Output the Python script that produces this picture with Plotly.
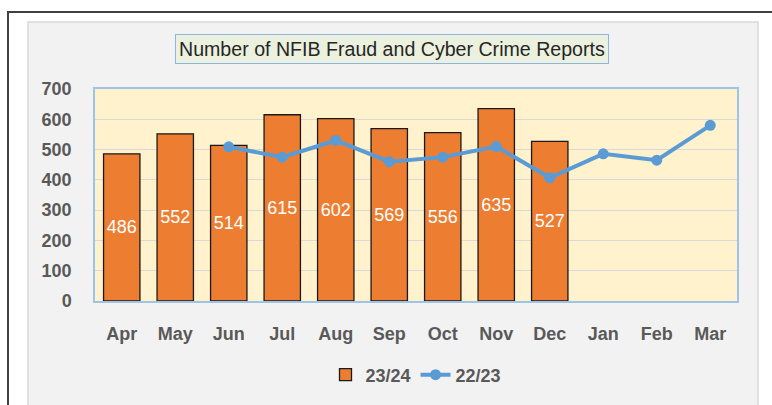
import plotly.graph_objects as go

months = ["Apr", "May", "Jun", "Jul", "Aug", "Sep", "Oct", "Nov", "Dec", "Jan", "Feb", "Mar"]
reports_2324 = [486, 552, 514, 615, 602, 569, 556, 635, 527, None, None, None]
reports_2223 = [None, None, 509, 475, 530, 460, 475, 510, 407, 486, 465, 580]
y_ticks = [0, 100, 200, 300, 400, 500, 600, 700]

L, R, T, B = 95, 35, 89, 101
W, H = 772, 405
pw, ph = W - L - R, H - T - B

def px(x):
    return (x - L) / pw

def py(y):
    return (H - B - y) / ph

fig = go.Figure()
fig.add_trace(go.Bar(
    x=months, y=reports_2324, name="23/24",
    marker=dict(color="#ED7D31", line=dict(color="#1a1a1a", width=1.3)),
    width=0.68,
    text=[str(v) if v is not None else "" for v in reports_2324],
    textposition="inside", insidetextanchor="middle",
    textfont=dict(color="white", size=18, family="Liberation Sans"),
    textangle=0,
))
fig.add_trace(go.Scatter(
    x=months, y=reports_2223, name="22/23", mode="lines+markers",
    line=dict(color="#5B9BD5", width=4),
    marker=dict(color="#5B9BD5", size=11),
    connectgaps=False,
))

shapes = [
    dict(type="rect", xref="paper", yref="paper", x0=px(8), x1=1.3, y0=-0.7, y1=py(11),
         line=dict(color="#404040", width=2), fillcolor="white", layer="below"),
    dict(type="rect", xref="paper", yref="paper", x0=px(28), x1=px(758), y0=-0.7, y1=py(21),
         line=dict(color="#d9d9d9", width=1.5), fillcolor="#f2f2f2", layer="below"),
    dict(type="rect", xref="paper", yref="paper", x0=0, x1=1, y0=0, y1=1,
         line=dict(width=0), fillcolor="#FFF2CC", layer="below"),
]

fig.update_layout(
    width=W, height=H,
    margin=dict(l=L, r=R, t=T, b=B),
    paper_bgcolor="white",
    plot_bgcolor="rgba(0,0,0,0)",
    font=dict(family="Liberation Sans", color="#595959"),
    shapes=shapes,
    showlegend=True,
    legend=dict(orientation="h", x=0.5, xanchor="center", y=py(379), yanchor="middle",
                font=dict(size=18, color="#595959", family="Liberation Sans", weight="bold"),
                bgcolor="rgba(0,0,0,0)", traceorder="normal"),
    annotations=[dict(
        text="Number of NFIB Fraud and Cyber Crime Reports",
        xref="paper", yref="paper", x=px(392), y=py(48), xanchor="center", yanchor="middle",
        showarrow=False, font=dict(size=19.6, color="#262626", family="Liberation Sans"),
        bgcolor="#EBF1DE", bordercolor="#8EB4E3", borderwidth=1, borderpad=3,
    )],
)
fig.update_xaxes(
    range=[-0.5, 11.5],
    showgrid=False, showline=True, linecolor="#9DC3E6", linewidth=1.5, mirror=True,
    tickfont=dict(size=18, color="#595959", family="Liberation Sans", weight="bold"),
    ticks="", ticklabelstandoff=16,
)
fig.update_yaxes(
    range=[0, 700], tickvals=y_ticks, showgrid=True, gridcolor="#d9d9d9", gridwidth=1.3,
    showline=True, linecolor="#9DC3E6", linewidth=1.5, mirror=True,
    tickfont=dict(size=18, color="#595959", family="Liberation Sans", weight="bold"),
    ticks="", zeroline=False, ticklabelstandoff=18,
)

fig.write_html("out.html", config={"displayModeBar": False},
               post_script="document.body.style.margin='0';document.body.style.overflow='hidden';")
